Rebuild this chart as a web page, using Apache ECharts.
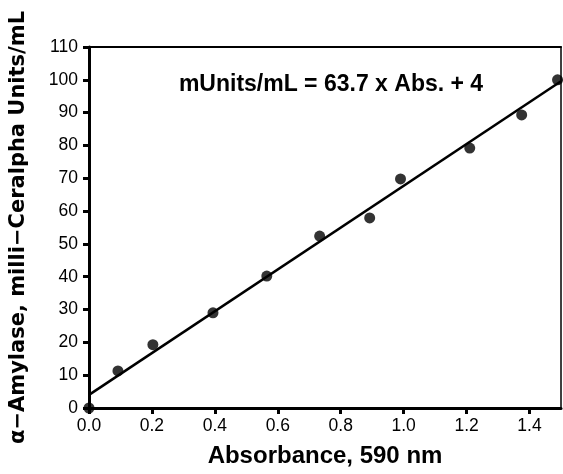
<!DOCTYPE html>
<html>
<head>
<meta charset="utf-8">
<script src="https://cdn.jsdelivr.net/npm/echarts@6/dist/echarts.min.js"></script>
<style>html,body{margin:0;padding:0;background:#fff;}#c{width:563px;height:474px;}</style>
</head>
<body>
<div id="c"></div>
<script>
var absorbance = [0.0, 0.092, 0.203, 0.394, 0.565, 0.733, 0.892, 0.99, 1.21, 1.375, 1.489];
var activity   = [0, 11.3, 19.3, 29, 40.2, 52.4, 57.9, 69.8, 79.2, 89.3, 100];
var fitX = [0, 1.5];
var fitY = [4, 99.55];
var xTicks = ['0.0','0.2','0.4','0.6','0.8','1.0','1.2','1.4'];
var equation = 'mUnits/mL = 63.7 x Abs. + 4';
var xName = 'Absorbance, 590 nm';
var yName = 'α\u2212Amylase, milli\u2212Ceralpha Units/mL';

var chart = echarts.init(document.getElementById('c'));
var lbl = {color:'#000', fontFamily:'Liberation Sans', fontSize:17.5};
chart.setOption({
  animation:false,
  grid:{left:88, right:2, top:47, bottom:66},
  title:{text:equation, left:326, top:68, textAlign:'center',
    textStyle:{fontFamily:'Liberation Sans', fontWeight:'bold', fontSize:23, color:'#000'}},
  xAxis:[{
    type:'value', min:0, max:1.5, interval:0.2,
    axisLine:{lineStyle:{color:'#000', width:3}},
    axisTick:{length:6, lineStyle:{color:'#000', width:3}},
    axisLabel:Object.assign({margin:9, showMaxLabel:false,
      formatter:function(v){return xTicks[Math.round(v/0.2)];}}, lbl),
    splitLine:{show:false},
    name:xName, nameLocation:'middle', nameGap:36,
    nameTextStyle:{fontFamily:'Liberation Sans', fontWeight:'bold', fontSize:24, color:'#000'}
  },{
    type:'value', position:'top', min:0, max:1.5,
    axisLine:{show:true, onZero:false, lineStyle:{color:'#000', width:2}},
    axisTick:{show:false}, axisLabel:{show:false}, splitLine:{show:false}
  }],
  yAxis:[{
    type:'value', min:0, max:110, interval:10,
    axisLine:{lineStyle:{color:'#000', width:3}},
    axisTick:{length:6, lineStyle:{color:'#000', width:3}},
    axisLabel:Object.assign({margin:11}, lbl),
    splitLine:{show:false},
    name:yName, nameLocation:'middle', nameGap:60,
    nameTextStyle:{fontFamily:'DejaVu Sans', fontWeight:'bold', fontSize:21, color:'#000'}
  },{
    type:'value', position:'right', min:0, max:110,
    axisLine:{show:true, onZero:false, lineStyle:{color:'#000', width:1.5}},
    axisTick:{show:false}, axisLabel:{show:false}, splitLine:{show:false}
  }],
  series:[{
    type:'line', data:fitX.map(function(x,i){return [x, fitY[i]];}),
    symbol:'none', lineStyle:{color:'#000', width:2.5}, z:2
  },{
    type:'scatter', data:absorbance.map(function(x,i){return [x, activity[i]];}),
    symbol:'circle', symbolSize:11, itemStyle:{color:'#000'}, z:3, clip:false
  }]
});
</script>
</body>
</html>
